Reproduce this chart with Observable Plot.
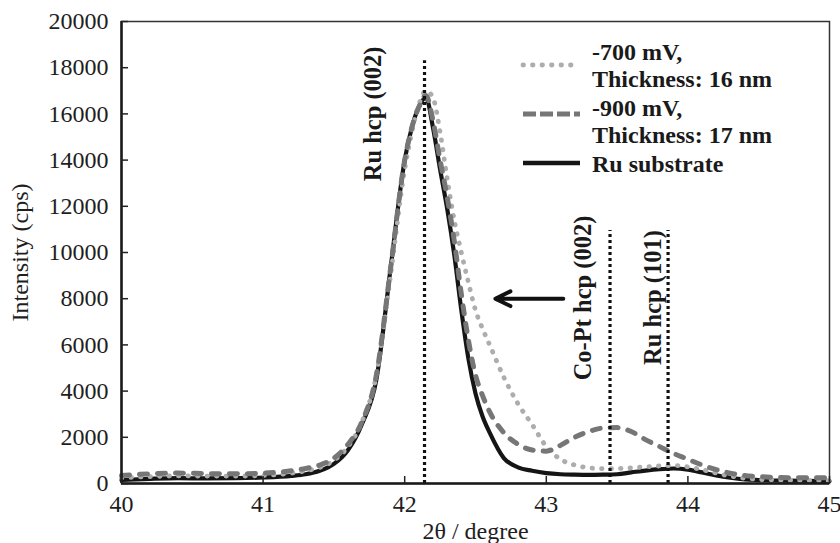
<!DOCTYPE html>
<html><head><meta charset="utf-8">
<script src="https://cdn.jsdelivr.net/npm/d3@7"></script>
<script src="https://cdn.jsdelivr.net/npm/@observablehq/plot@0.6"></script>
<style>
body{margin:0;background:#fff;}
#chart{position:relative;width:840px;height:543px;overflow:hidden;}
#legend{position:absolute;left:0;top:0;pointer-events:none;}
</style></head><body><div id="chart"></div>
<script>
// 2θ sample positions (degree)
const twoTheta = [40, 40.2, 40.4, 40.6, 40.8, 41.0, 41.2, 41.3, 41.4, 41.5, 41.6, 41.7, 41.8, 41.9, 42.0, 42.05, 42.1, 42.15, 42.2, 42.25, 42.3, 42.35, 42.4, 42.45, 42.5, 42.55, 42.6, 42.7, 42.8, 42.9, 43.0, 43.1, 43.2, 43.3, 43.4, 43.5, 43.6, 43.7, 43.8, 43.9, 44.0, 44.1, 44.2, 44.3, 44.4, 44.5, 44.6, 44.8, 45.0];
// Intensity (cps)
const ruSubstrate = [150,200,230,220,230,260,330,400,550,850,1450,2600,4500,9300,14000,15400,16300,16700,15400,13600,11900,9900,7500,5400,3900,2900,2200,1100,700,550,450,400,380,370,380,400,480,560,620,650,600,480,350,250,180,150,130,120,100];
const mv900 = [350,420,450,430,420,450,550,650,800,1100,1700,2700,4700,9300,14000,15400,16300,16800,15700,14000,12400,10500,8200,6200,4700,3800,3100,2200,1700,1450,1400,1650,2000,2250,2400,2420,2250,1900,1600,1300,1050,800,600,450,350,300,270,250,250];
const mv700 = [250,300,330,320,320,350,450,550,700,1000,1600,2700,4700,9000,13600,15200,16400,17000,16700,15200,13200,11400,10000,8700,7500,6700,6000,4600,3450,2550,1600,1050,800,680,640,650,680,720,760,780,720,600,450,320,230,180,160,140,120];

const seriesNames = ["-700 mV,\nThickness: 16 nm", "-900 mV,\nThickness: 17 nm", "Ru substrate"];
const xTicks = [40, 41, 42, 43, 44, 45];
const yTicks = [0, 2000, 4000, 6000, 8000, 10000, 12000, 14000, 16000, 18000, 20000];

const peakNames = ["Ru hcp (002)", "Co-Pt hcp (002)", "Ru hcp (101)"];
const peakPos = [42.14, 43.45, 43.86];
const peakLineTop = [18300, 10950, 10950];
const peakLabelY = [16000, 8030, 8050];
const arrowFrom = [43.12], arrowTo = [42.64], arrowLevel = [8000];

const toRows = (vals, s) => vals.map((v, i) => ({x: twoTheta[i], y: v, s}));
const rows700 = toRows(mv700, seriesNames[0]);
const rows900 = toRows(mv900, seriesNames[1]);
const rowsRu = toRows(ruSubstrate, seriesNames[2]);
const peaks = peakNames.map((n, i) => ({name: n, x: peakPos[i], top: peakLineTop[i], ly: peakLabelY[i]}));
const labelDx = [-51, -27, -15];
const arrows = arrowFrom.map((f, i) => ({x1: f, x2: arrowTo[i], y: arrowLevel[i]}));

const FONT = "'Liberation Serif', 'Times New Roman', Times, serif";
const fmt = d3.format("d");
const chart = Plot.plot({
  width: 840, height: 543,
  marginLeft: 121, marginRight: 11, marginTop: 21, marginBottom: 60,
  style: {fontFamily: FONT, fontSize: "23.5px", color: "#1e1e1e", background: "#fff"},
  x: {domain: [40, 45]},
  y: {domain: [0, 20000]},
  marks: [
    Plot.line(rowsRu, {x: "x", y: "y", stroke: "#151515", strokeWidth: 4.2, curve: "monotone-x"}),
    Plot.line(rows700, {x: "x", y: "y", stroke: "#adadad", strokeWidth: 4.8, strokeDasharray: "0.5 9", strokeLinecap: "round", curve: "monotone-x"}),
    Plot.line(rows900, {x: "x", y: "y", stroke: "#767676", strokeWidth: 5, strokeDasharray: "8 10", strokeLinecap: "round", curve: "monotone-x"}),
    Plot.ruleX(peaks, {x: "x", y1: 0, y2: "top", stroke: "#111", strokeWidth: 3.2, strokeDasharray: "3 3"}),
    ...peaks.map((p, i) => Plot.text([p], {x: "x", y: "ly", text: "name", rotate: -90, dx: labelDx[i], fontWeight: "bold", fontSize: 24.5, fill: "#1a1a1a", textAnchor: "middle", lineAnchor: "middle"})),
    Plot.arrow(arrows, {x1: "x1", x2: "x2", y1: "y", y2: "y", stroke: "#111", strokeWidth: 4, headLength: 6.3, headAngle: 52}),
    Plot.frame({stroke: "#333", strokeWidth: 1.5}),
    Plot.ruleX([40], {stroke: "#1a1a1a", strokeWidth: 2.5}),
    Plot.ruleY([0], {stroke: "#1a1a1a", strokeWidth: 2.5}),
    Plot.axisY({ticks: yTicks, tickSize: 0, tickPadding: 13, tickFormat: fmt, label: "Intensity (cps)", labelAnchor: "center", labelArrow: "none", labelOffset: 111, fontSize: 24, fill: "#1e1e1e"}),
    Plot.axisY({ticks: yTicks, tickSize: 7, dx: 7, tickFormat: () => "", label: null, stroke: "#222", strokeWidth: 1.5}),
    Plot.axisX({ticks: xTicks, tickSize: 0, tickPadding: 11, tickFormat: fmt, label: "2θ / degree", labelAnchor: "center", labelArrow: "none", labelOffset: 55, fontSize: 24, fill: "#1e1e1e"}),
    Plot.axisX({ticks: xTicks, tickSize: 7, dy: -7, tickFormat: () => "", label: null, stroke: "#222", strokeWidth: 1.5})
  ]
});
const host = document.getElementById("chart");
host.appendChild(chart);

// Legend
const legendStyles = [
  {stroke: "#adadad", width: 4.8, dash: "0.5 9", cap: "round", y: 65},
  {stroke: "#767676", width: 5, dash: "13 4", cap: "butt", y: 114},
  {stroke: "#151515", width: 4.5, dash: null, cap: "butt", y: 163}
];
const legendLines = [["-700 mV,", 60], ["Thickness: 16 nm", 87], ["-900 mV,", 116], ["Thickness: 17 nm", 143], ["Ru substrate", 172]];
const lg = d3.select(host).append("svg").attr("id", "legend").attr("width", 840).attr("height", 543);
legendStyles.forEach(s => {
  lg.append("line").attr("x1", 523).attr("x2", 580).attr("y1", s.y).attr("y2", s.y)
    .attr("stroke", s.stroke).attr("stroke-width", s.width).attr("stroke-linecap", s.cap)
    .attr("stroke-dasharray", s.dash);
});
legendLines.forEach(([t, y]) => {
  lg.append("text").attr("x", 592).attr("y", y).text(t)
    .attr("font-family", FONT)
    .attr("font-size", 24).attr("font-weight", "bold").attr("fill", "#1a1a1a");
});
</script></body></html>
